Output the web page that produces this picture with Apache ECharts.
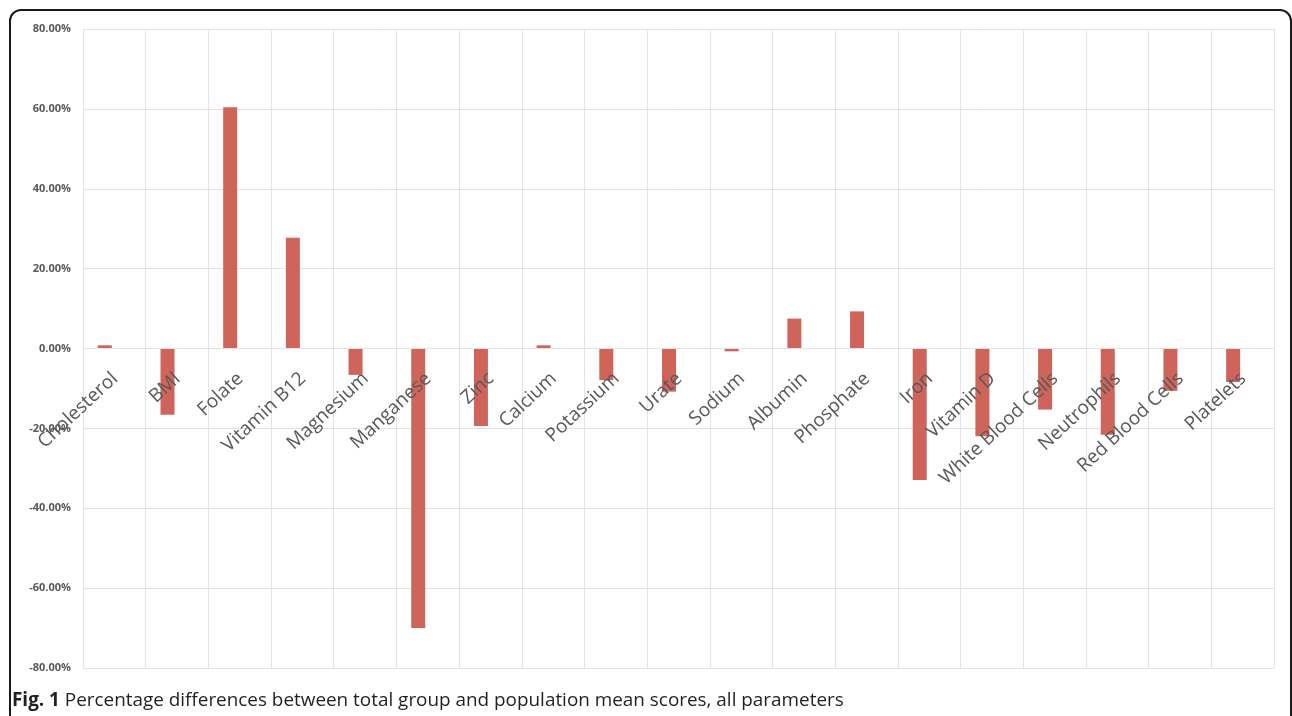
<!DOCTYPE html>
<html>
<head>
<meta charset="utf-8">
<script src="https://cdn.jsdelivr.net/npm/echarts@6/dist/echarts.min.js"></script>
<style>
  html, body { margin: 0; padding: 0; background: #fff; }
  .chart_wrap { position: relative; width: 1292px; height: 716px; overflow: hidden; }
  .frame {
    position: absolute; left: 9px; top: 9px; width: 1283px; height: 760px;
    border: 2px solid #1a1a1a; border-radius: 12px; box-sizing: border-box;
  }
  #myChart { position: absolute; left: 0; top: 0; width: 1292px; height: 716px; }
  .caption {
    position: absolute; left: 12px; top: 686px; line-height: 26px;
    font-family: "Open Sans", sans-serif; font-size: 18.9px; color: #231f20;
  }
  .caption b { font-weight: 700; }
</style>
</head>
<body>
<div class="chart_wrap">
  <div class="frame"></div>
  <div id="myChart"></div>
  <div class="caption"><b>Fig. 1</b> Percentage differences between total group and population mean scores, all parameters</div>
</div>
<script>
// 参数名称
const categories = [
  "Cholesterol", "BMI", "Folate", "Vitamin B12", "Magnesium", "Manganese",
  "Zinc", "Calcium", "Potassium", "Urate", "Sodium", "Albumin", "Phosphate",
  "Iron", "Vitamin D", "White Blood Cells", "Neutrophils", "Red Blood Cells", "Platelets"
];
// 百分比差异 (%)
const diffValues = [
  0.8, -16.6, 60.4, 27.7, -6.6, -70.0,
  -19.4, 0.8, -7.9, -10.8, -0.7, 7.5, 9.3,
  -32.9, -22.0, -15.3, -21.6, -10.6, -8.4
];
const yTicks = { min: -80, max: 80, step: 20 };

const gridTop = 29;
const gridBottom = 48;
const plotHeight = 716 - gridTop - gridBottom;
// x轴标签放在0值处
const zeroOffset = -plotHeight * (0 - yTicks.min) / (yTicks.max - yTicks.min);

const myChart = echarts.init(document.getElementById("myChart"));
const option = {
  animation: false,
  grid: {
    left: 83,
    right: 18,
    top: gridTop,
    bottom: gridBottom,
    containLabel: false,
    outerBoundsMode: "none",
  },
  xAxis: {
    type: "category",
    data: categories,
    position: "bottom",
    offset: zeroOffset,
    z: 5,
    axisLine: {
      onZero: false,
      lineStyle: { color: "#e3e3e3", width: 1 },
    },
    axisTick: { show: false },
    splitLine: {
      show: true,
      lineStyle: { color: "#e3e3e3", width: 1 },
    },
    axisLabel: {
      interval: 0,
      rotate: 43,
      margin: 15,
      padding: [0, 8, 0, 0],
      align: "right",
      verticalAlign: "top",
      color: "#595959",
      fontFamily: "Open Sans",
      fontSize: 19,
    },
  },
  yAxis: {
    type: "value",
    min: yTicks.min,
    max: yTicks.max,
    interval: yTicks.step,
    axisLine: { show: false },
    axisTick: { show: false },
    axisLabel: {
      margin: 12,
      color: "#595959",
      fontFamily: "Open Sans",
      fontWeight: "bold",
      fontSize: 11,
      formatter: (v) => v.toFixed(2) + "%",
    },
    splitLine: {
      lineStyle: { color: "#e3e3e3", width: 1 },
    },
  },
  series: [
    {
      name: "Difference",
      type: "bar",
      barWidth: 14,
      barGap: "36%",
      data: diffValues,
      itemStyle: { color: "#cf645b" },
    },
    {
      // 空系列，占位
      name: "",
      type: "bar",
      barWidth: 14,
      data: [],
    },
  ],
};
myChart.setOption(option);
</script>
</body>
</html>
